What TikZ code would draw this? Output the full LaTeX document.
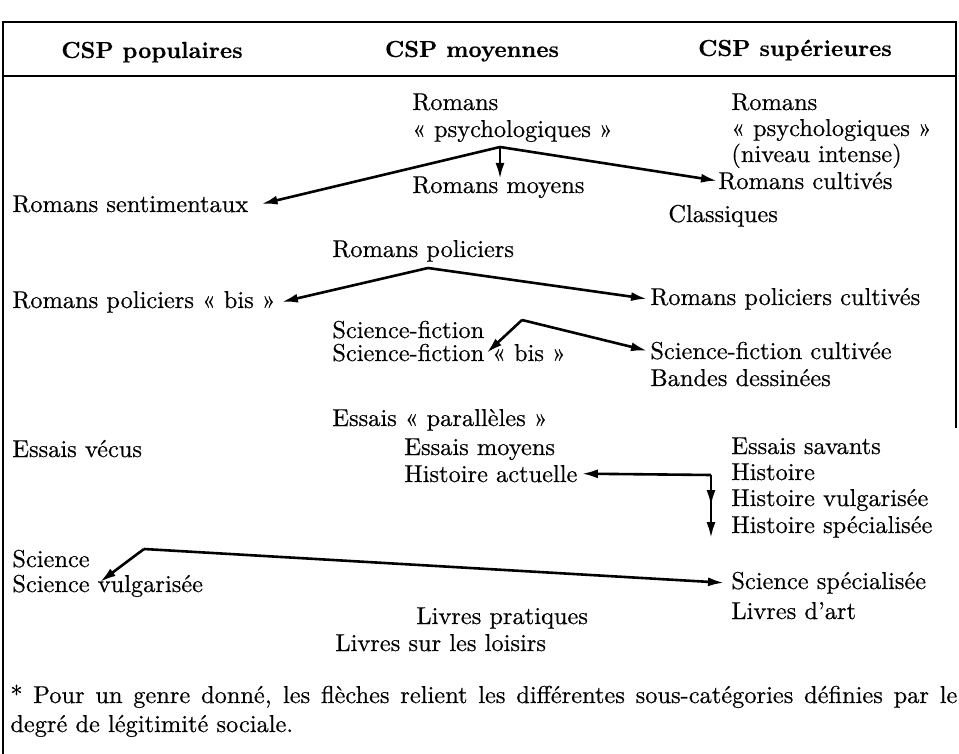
\documentclass[tikz,border=0pt]{standalone}
\usepackage{fontspec}
\setmainfont{lmroman10-regular.otf}[FakeBold=0.5, BoldFont=lmroman10-bold.otf, BoldFeatures={FakeBold=0.3}]
\usetikzlibrary{arrows.meta}
\begin{document}
\begin{tikzpicture}[x=0.5pt,y=-0.5pt,
  txt/.style={anchor=base west, inner sep=0pt, font=\fontsize{12.2}{14}\selectfont},
  hdr/.style={anchor=base, inner sep=0pt, font=\fontsize{11.6}{14}\selectfont\bfseries},
  framel/.style={line width=1.1pt},
  arr/.style={line width=1.3pt, -{Latex[length=8pt,width=4.5pt]}}]
\useasboundingbox (0,0) rectangle (959,754);
% frame
\draw[framel] (3,754) -- (3,22) -- (956,22) -- (956,428);
\draw[framel] (3,76) -- (956,76);
% headers
\node[hdr] (h1) at (152,58) {CSP populaires};
\node[hdr] (h2) at (472,57) {CSP moyennes};
\node[hdr] (h3) at (795,56) {CSP supérieures};
% romans
\node[txt] (r1) at (412,110) {Romans};
\node[txt] (r2) at (412,137) {« psychologiques »};
\node[txt] (rmoy) at (412,193) {Romans moyens};
\node[txt] (rsent) at (12,212) {Romans sentimentaux};
\node[txt] (s1) at (731,110) {Romans};
\node[txt] (s2) at (731,136) {« psychologiques »};
\node[txt] (s3) at (731,162) {(niveau intense)};
\node[txt] (rcult) at (718,189) {Romans cultivés};
\node[txt] (class) at (668,222) {Classiques};
% policiers
\node[txt] (rpol) at (332,257) {Romans policiers};
\node[txt] (rpbis) at (12,308) {Romans policiers « bis »};
\node[txt] (rpcult) at (650,305) {Romans policiers cultivés};
% science-fiction
\node[txt] (sf1) at (332,338) {Science-fiction};
\node[txt] (sf2) at (332,361) {Science-fiction « bis »};
\node[txt] (sfcult) at (650,359) {Science-fiction cultivée};
\node[txt] (bd) at (650,386) {Bandes dessinées};
% essais / histoire
\node[txt] (epar) at (332,426) {Essais « parallèles »};
\node[txt] (emoy) at (404,455) {Essais moyens};
\node[txt] (evec) at (12,457) {Essais vécus};
\node[txt] (esav) at (731,454) {Essais savants};
\node[txt] (hact) at (404,482) {Histoire actuelle};
\node[txt] (hist) at (731,480) {Histoire};
\node[txt] (hvul) at (731,506) {Histoire vulgarisée};
\node[txt] (hspe) at (731,533) {Histoire spécialisée};
% science
\node[txt] (sci) at (12,567) {Science};
\node[txt] (svul) at (12,592) {Science vulgarisée};
\node[txt] (sspe) at (731,589) {Science spécialisée};
\node[txt] (lart) at (731,619) {Livres d’art};
\node[txt] (lprat) at (416,624) {Livres pratiques};
\node[txt] (lois) at (335,651) {Livres sur les loisirs};
% footnote
\node[txt] (f1) at (10,703) {\makebox[473.5pt][s]{* Pour un genre donné, les flèches relient les différentes sous-catégories définies par le}};
\node[txt] (f2) at (10,732) {degré de légitimité sociale.};
% connectors
\coordinate (pa) at (500,147);
\draw[arr] (pa) -- ([xshift=6.5pt]rsent.east);
\draw[arr] (pa) -- ([yshift=-1.5pt]pa |- rmoy.north);
\draw[arr] (pa) -- ([xshift=-0.5pt]rcult.west);
\coordinate (pb) at (428,268);
\draw[arr] (pb) -- ([xshift=3pt]rpbis.east);
\draw[arr] (pb) -- ([xshift=-1.5pt]rpcult.west);
\coordinate (pc) at (522,320);
\draw[arr] (pc) -- ([xshift=1pt,yshift=-7pt]sf1.south east);
\draw[arr] (pc) -- ([xshift=-1.5pt]sfcult.west);
\coordinate (pd) at (711,475);
\draw[arr] (pd) -- ([xshift=2pt]hact.east);
\draw[arr] (pd) -- (pd |- hvul.base);
\draw[arr] (pd) -- (pd |- hspe.south);
\coordinate (pe) at (144,549);
\draw[arr] (pe) -- ([xshift=5pt,yshift=-7pt]sci.south east);
\draw[arr] (pe) -- ([xshift=-3.5pt]sspe.west);
\end{tikzpicture}
\end{document}
